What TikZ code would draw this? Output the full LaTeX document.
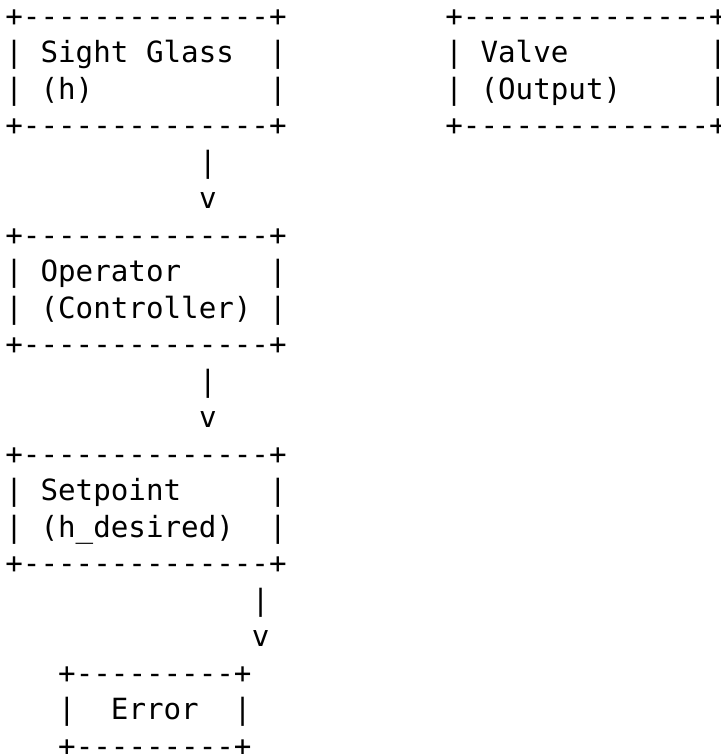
\documentclass[tikz,border=0pt]{standalone}
\usepackage{fontspec}
\newfontfamily\asciifont{DejaVu Sans Mono}
\usepackage{tikz}

\begin{document}
\begin{tikzpicture}[x=17.6bp, y=-36.5bp,
      every node/.style = {anchor=base west, inner sep=0pt,
        font=\asciifont\fontsize{29.2bp}{36.5bp}\selectfont}]
  \useasboundingbox (0,0) rectangle (721bp,-754bp);
  \begin{scope}[shift={(5.2bp,-26bp)}]
    % upper row of boxes
    \node (sight top) at (0,0) {+--------------+};
    \node (sight a)   at (0,1) {|~Sight~Glass~~|};
    \node (sight b)   at (0,2) {|~(h)~~~~~~~~~~|};
    \node (sight bot) at (0,3) {+--------------+};
    \node (valve top) at (25,0) {+--------------+};
    \node (valve a)   at (25,1) {|~Valve~~~~~~~~|};
    \node (valve b)   at (25,2) {|~(Output)~~~~~|};
    \node (valve bot) at (25,3) {+--------------+};
    % sight glass -> operator
    \node (link1 bar) at (11,4) {|};
    \node (link1 tip) at (11,5) {v};
    \node (oper top)  at (0,6) {+--------------+};
    \node (oper a)    at (0,7) {|~Operator~~~~~|};
    \node (oper b)    at (0,8) {|~(Controller)~|};
    \node (oper bot)  at (0,9) {+--------------+};
    % operator -> setpoint
    \node (link2 bar) at (11,10) {|};
    \node (link2 tip) at (11,11) {v};
    \node (set top)   at (0,12) {+--------------+};
    \node (set a)     at (0,13) {|~Setpoint~~~~~|};
    \node (set b)     at (0,14) {|~(h\_desired)~~|};
    \node (set bot)   at (0,15) {+--------------+};
    % setpoint -> error
    \node (link3 bar) at (14,16) {|};
    \node (link3 tip) at (14,17) {v};
    \node (err top)   at (3,18) {+---------+};
    \node (err a)     at (3,19) {|~~Error~~|};
    \node (err bot)   at (3,20) {+---------+};
  \end{scope}
\end{tikzpicture}
\end{document}
